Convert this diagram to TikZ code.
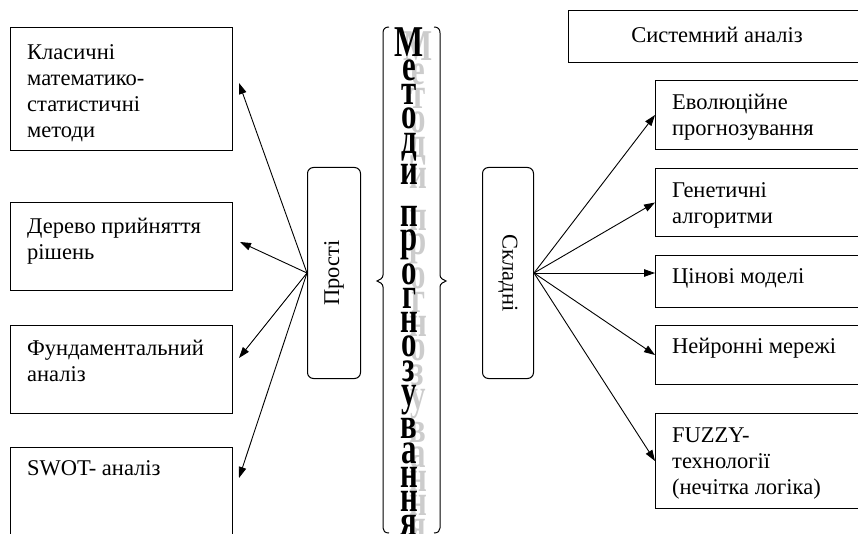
\documentclass[tikz,border=0pt]{standalone}
\usepackage{fontspec}
\setmainfont{Liberation Serif}
\newfontfamily\titlefont{Liberation Serif}[FakeStretch=0.7]
\usetikzlibrary{arrows.meta}
\begin{document}
\begin{tikzpicture}[x=1pt,y=-1pt,
  box/.style={draw, line width=1pt, rectangle, anchor=north west, inner sep=0pt},
  rbox/.style={draw, line width=1pt, rounded corners=6pt, anchor=north west, inner sep=0pt, minimum width=52pt, minimum height=211pt},
  lbl/.style={anchor=north west, inner sep=0pt, align=left, font=\fontsize{22.5}{26}\selectfont},
  arr/.style={line width=0.9pt, -{Triangle[length=11pt,width=7.5pt]}},
  brace/.style={line width=1pt},
  ttl/.style={inner sep=0pt, anchor=north, align=center, font={\titlefont\bfseries\fontsize{44}{0}\selectfont\lineskip=3.6pt\lineskiplimit=0pt}},
]
\fill[white] (0,0) rectangle (858,534);
\useasboundingbox (0,0) rectangle (858,534);
\clip (0,0) rectangle (858,534);

% left boxes
\node[box, minimum width=222pt, minimum height=123pt] (l1) at (10,27) {};
\node[box, minimum width=222pt, minimum height=88pt] (l2) at (10,202) {};
\node[box, minimum width=222pt, minimum height=88pt] (l3) at (10,325) {};
\node[box, minimum width=222pt, minimum height=100pt] (l4) at (10,447) {};
\node[lbl] (l1t) at ([shift={(17,13.8)}]l1.north west) {\strut Класичні\\математико-\\статистичні\\методи};
\node[lbl] (l2t) at ([shift={(17,12.8)}]l2.north west) {\strut Дерево прийняття\\рішень};
\node[lbl] (l3t) at ([shift={(17,11.8)}]l3.north west) {\strut Фундаментальний\\аналіз};
\node[lbl] (l4t) at ([shift={(17,9.8)}]l4.north west) {\strut SWOT- аналіз};

% right boxes
\node[box, minimum width=300pt, minimum height=52pt] (sys) at (568,10) {};
\node[lbl, anchor=north] (syst) at (717,23.8) {\strut Системний аналіз};
\node[box, minimum width=220pt, minimum height=69pt] (r1) at (655,80) {};
\node[box, minimum width=220pt, minimum height=68pt] (r2) at (655,168) {};
\node[box, minimum width=220pt, minimum height=52pt] (r3) at (655,255) {};
\node[box, minimum width=220pt, minimum height=59pt] (r4) at (655,325) {};
\node[box, minimum width=220pt, minimum height=95pt] (r5) at (655,413) {};
\node[lbl] (r1t) at ([shift={(17,10.8)}]r1.north west) {\strut Еволюційне\\прогнозування};
\node[lbl] (r2t) at ([shift={(17,10.8)}]r2.north west) {\strut Генетичні\\алгоритми};
\node[lbl] (r3t) at ([shift={(17,9.8)}]r3.north west) {\strut Цінові моделі};
\node[lbl] (r4t) at ([shift={(17,9.8)}]r4.north west) {\strut Нейронні мережі};
\node[lbl] (r5t) at ([shift={(17,10.8)}]r5.north west) {\strut FUZZY-\\технології\\(нечітка логіка)};

% rounded category boxes
\node[rbox, minimum width=53pt] (pr) at (307,167) {};
\node[rbox, minimum width=51pt] (sk) at (482,167) {};
\node[rotate=90, font=\fontsize{22.5}{26}\selectfont, inner sep=0pt] (prt) at (pr.center) {Прості};
\node[rotate=-90, font=\fontsize{22.5}{26}\selectfont, inner sep=0pt] (skt) at (sk.center) {Складні};

% title with shadow
\node[ttl, text=gray!40] (tsh) at (418,31) {М\\е\\т\\о\\д\\и\\[18pt]п\\р\\о\\г\\н\\о\\з\\у\\в\\а\\н\\н\\я};
\node[ttl, text=black] (title) at (409,27) {М\\е\\т\\о\\д\\и\\[18pt]п\\р\\о\\г\\н\\о\\з\\у\\в\\а\\н\\н\\я};

% braces
\draw[brace] (389,27) .. controls (385,27) and (383,29) .. (383,33) -- (383,275)
  .. controls (383,278) and (380,280) .. (377,281)
  .. controls (380,282) and (383,284) .. (383,287) -- (383,528)
  .. controls (383,531) and (385,533) .. (389,533);
\draw[brace] (434,27) .. controls (438,27) and (440,29) .. (440,33) -- (440,275)
  .. controls (440,278) and (443,280) .. (446,281)
  .. controls (443,282) and (440,284) .. (440,287) -- (440,528)
  .. controls (440,531) and (438,533) .. (434,533);

% arrow tips on the left
\coordinate (t1) at (239,83);
\coordinate (t2) at (240,242);
\coordinate (t3) at (239,358);
\coordinate (t4) at (239,478);
\draw[arr] (pr.west) -- (t1);
\draw[arr] (pr.west) -- (t2);
\draw[arr] (pr.west) -- (t3);
\draw[arr] (pr.west) -- (t4);

% arrows on the right
\draw[arr] (sk.east) -- (r1.west);
\draw[arr] (sk.east) -- (r2.west);
\draw[arr] (sk.east) -- (sk.east -| r3.west);
\draw[arr] (sk.east) -- (r4.west);
\draw[arr] (sk.east) -- (r5.west);
\end{tikzpicture}
\end{document}
